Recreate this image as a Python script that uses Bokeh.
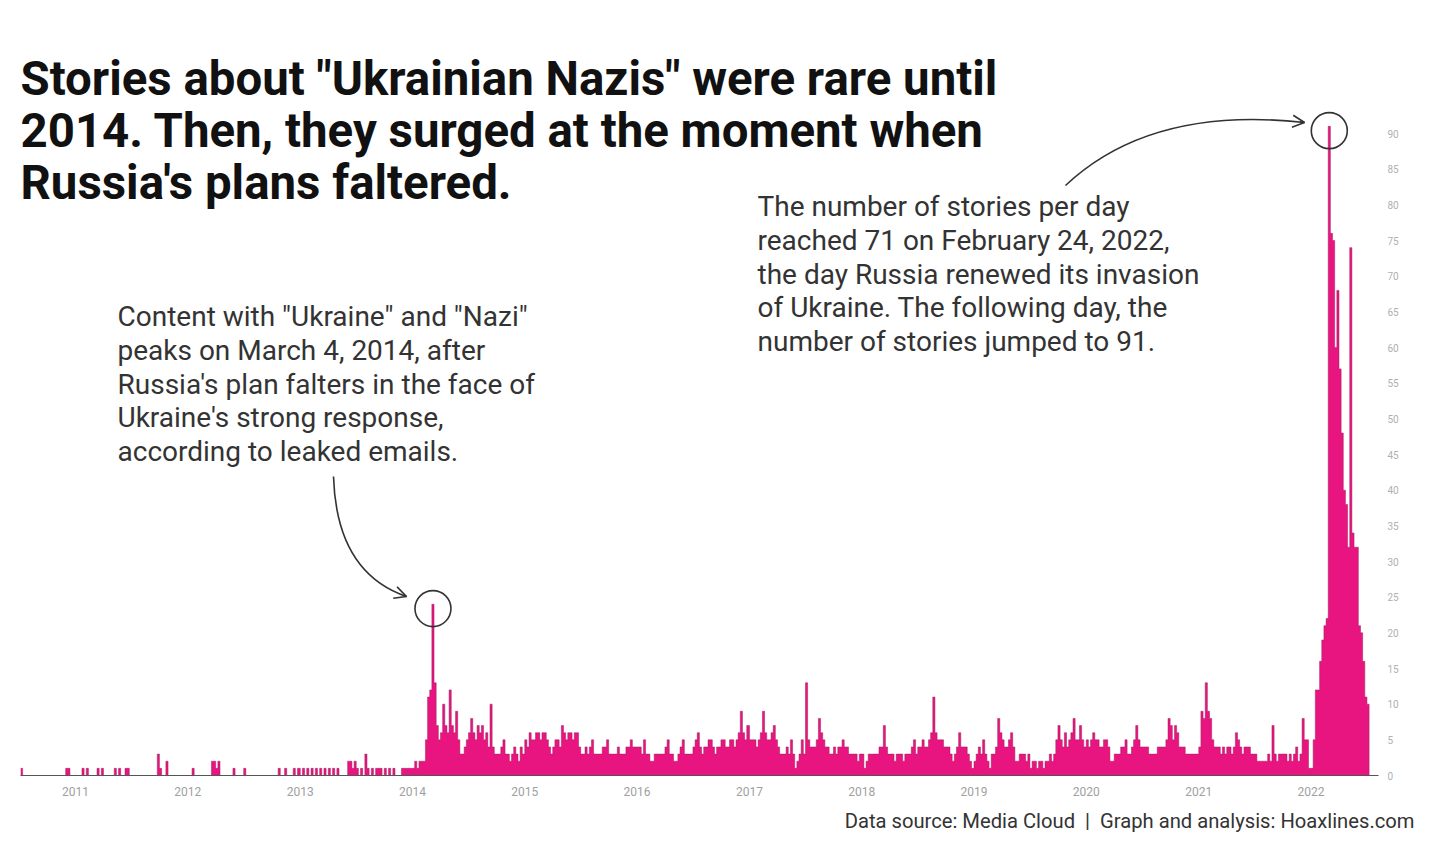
import datetime as dt
from bokeh.plotting import figure
from bokeh.models import (Range1d, FixedTicker, DatetimeTickFormatter, Label,
                          Arrow, OpenHead, ColumnDataSource, Title)
from bokeh.embed import file_html
from bokeh.resources import INLINE

# ---------------- data (weekly story counts) ----------------
first_week_start = "2010-07-06"
counts_2010 = [1,0,0,0,0,0,0,0,0,0, 0,0,0,0,0,0,0,0,0,0, 0,1,1,0,0,0]
counts_2011 = [0,0,0,1,0,1,0,0,0,0, 1,0,1,0,0,0,0,0,1,0, 1,0,0,1,1,0,0,0,0,0,
               0,0,0,0,0,0,0,0,3,1, 0,0,2,0,0,0,0,0,0,0, 0,0]
counts_2012 = [0,0,1,0,0,0,0,0,0,0, 0,2,2,1,2,0,0,0,0,0, 0,1,0,0,0,0,1,0,0,0,
               0,0,0,0,0,0,0,0,0,0, 0,0,1,0,0,1,0,0,0,1, 0,1]
counts_2013 = [0,1,0,1,0,1,0,1,0,1, 0,1,0,1,0,1,0,1,0,0, 0,0,2,2,1,2,1,0,1,0,
               3,1,0,1,0,1,1,1,0,1, 0,1,0,1,0,0,0,1,1,1, 1,1]
counts_2014 = [1,2,1,2,2,2,5,11,12,24, 13,7,5,6,10,7,6,12,7,6, 9,5,3,3,4,5,6,8,6,5,
               7,6,7,5,6,4,10,4,3,3, 3,4,5,3,3,2,3,4,3,2, 4,3]
counts_2015 = [5,4,6,5,5,6,6,5,6,6, 5,4,3,4,5,5,4,7,6,5, 6,6,5,6,6,4,3,3,4,3,
               4,5,3,3,3,3,4,4,5,3, 3,3,3,4,3,3,3,4,4,5, 4,4]
counts_2016 = [4,4,3,5,3,3,2,2,3,3, 3,3,3,4,5,3,3,2,2,3, 4,5,3,3,3,3,4,5,6,4,
               3,4,4,5,5,4,3,4,4,5, 5,4,4,5,5,4,5,6,9,6, 5,7]
counts_2017 = [5,5,5,4,5,6,9,6,5,5, 6,7,5,4,3,3,3,4,3,5, 3,1,2,3,5,3,13,5,4,4,
               4,5,8,6,5,4,4,3,3,4, 3,4,4,5,4,4,3,3,3,3, 2,3]
counts_2018 = [3,1,2,3,3,3,3,3,4,4, 7,4,3,3,3,2,3,3,3,2, 3,3,3,4,5,3,4,4,5,4,
               4,5,6,11,6,5,5,5,4,4, 4,3,2,3,4,6,4,4,4,3, 2,1]
counts_2019 = [2,3,4,3,5,3,2,1,3,3, 4,8,6,5,4,4,5,6,4,2, 2,3,3,3,2,3,1,2,2,1,
               2,2,1,2,2,3,2,3,5,7, 5,4,6,4,5,6,8,5,5,7, 5,4]
counts_2020 = [5,4,5,6,5,5,4,4,5,5, 4,2,2,3,3,3,4,4,5,3, 3,4,5,7,5,4,4,4,4,3,
               3,3,3,4,4,4,4,5,8,7, 5,7,6,4,4,4,3,3,3,3, 3,3]
counts_2021 = [4,9,8,13,9,8,5,4,4,4, 3,4,3,4,4,3,4,6,5,4, 3,4,4,4,3,3,3,2,2,2,
               2,2,3,2,7,3,2,3,3,3, 3,2,3,2,3,4,2,3,8,5, 5,1]
counts_2022 = [1,5,12,12,16,19,21,22,91,76, 75,60,68,57,48,40,38,32,74,34,
               32,32,21,20,16,11,10]

weekly_counts = {2010: counts_2010, 2011: counts_2011, 2012: counts_2012,
                 2013: counts_2013, 2014: counts_2014, 2015: counts_2015,
                 2016: counts_2016, 2017: counts_2017, 2018: counts_2018,
                 2019: counts_2019, 2020: counts_2020, 2021: counts_2021,
                 2022: counts_2022}

tick_years = list(range(2011, 2023))
y_ticks = list(range(0, 95, 5))

title_lines = ['Stories about "Ukrainian Nazis" were rare until',
               '2014. Then, they surged at the moment when',
               "Russia's plans faltered."]
note_2014_lines = ['Content with "Ukraine" and "Nazi"',
                   'peaks on March 4, 2014, after',
                   "Russia's plan falters in the face of",
                   "Ukraine's strong response,",
                   'according to leaked emails.']
note_2022_lines = ['The number of stories per day',
                   'reached 71 on February 24, 2022,',
                   'the day Russia renewed its invasion',
                   'of Ukraine. The following day, the',
                   'number of stories jumped to 91.']
footer_text = "Data source: Media Cloud \u00a0|\u00a0 Graph and analysis: Hoaxlines.com"

# ---------------- helpers ----------------
EPOCH = dt.datetime(1970, 1, 1)
DAY = 86400000.0


def ms(d):
    return (d - EPOCH).total_seconds() * 1000.0


xs, ys = [], []
for yr in sorted(weekly_counts):
    start = dt.datetime.strptime(first_week_start, "%Y-%m-%d") if yr == 2010 else dt.datetime(yr, 1, 1)
    for i, c in enumerate(weekly_counts[yr]):
        xs.append(ms(start + dt.timedelta(days=7 * i)))
        ys.append(c)
xs.append(xs[-1] + 7 * DAY)
ys.append(0)
src = ColumnDataSource(dict(x=xs, y=ys))

# ---------------- layout ----------------
W, H = 1441, 851
FL, FR, FB = 20, 1378, 775          # frame left / right / bottom (px); top = 0
PX_2011, PX_2022 = 75.0, 1310.5
ppm = (PX_2022 - PX_2011) / (ms(dt.datetime(2022, 1, 1)) - ms(dt.datetime(2011, 1, 1)))
x_start = ms(dt.datetime(2011, 1, 1)) - (PX_2011 - FL) / ppm
x_end = x_start + (FR - FL) / ppm
PX_PER_UNIT = 642.0 / 90.0
y_end = FB / PX_PER_UNIT


def dx(px):
    return x_start + (px - FL) / ppm


def dy(py):
    return (FB - py) / PX_PER_UNIT


p = figure(width=W, height=H, x_axis_type="datetime",
           x_range=Range1d(x_start, x_end), y_range=Range1d(0, y_end),
           y_axis_location="right", output_backend="svg", toolbar_location=None,
           min_border_left=FL, min_border_right=W - FR, min_border_top=0,
           min_border_bottom=H - FB)
p.outline_line_color = None
p.grid.visible = False
p.background_fill_color = "white"
p.border_fill_color = "white"

# x axis
p.xaxis.ticker = FixedTicker(ticks=[ms(dt.datetime(y, 1, 1)) for y in tick_years])
p.xaxis.formatter = DatetimeTickFormatter(years="%Y", months="%Y", days="%Y")
p.xaxis.major_tick_line_color = None
p.xaxis.minor_tick_line_color = None
p.xaxis.axis_line_color = "#555555"
p.xaxis.axis_line_width = 1
p.xaxis.major_label_text_font = "Roboto"
p.xaxis.major_label_text_font_size = "12px"
p.xaxis.major_label_text_color = "#a0a0a0"
p.xaxis.major_label_standoff = 5

# y axis (right)
p.yaxis.ticker = FixedTicker(ticks=y_ticks)
p.yaxis.major_tick_line_color = None
p.yaxis.minor_tick_line_color = None
p.yaxis.axis_line_color = None
p.yaxis.major_label_text_font = "Roboto"
p.yaxis.major_label_text_font_size = "10px"
p.yaxis.major_label_text_color = "#b0b0b0"
p.yaxis.major_label_standoff = 3

# footer as a title below the axis
footer = Title(text=footer_text, align="right", text_font="Roboto",
               text_font_size="20.2px", text_font_style="normal",
               text_color="#333333", offset=-36, standoff=17)
p.add_layout(footer, "below")

# data
p.varea_step(x="x", y1=0, y2="y", step_mode="after", source=src,
             fill_color="#e8147f", fill_alpha=1.0)
p.step(x="x", y="y", mode="after", source=src, line_color="#a3205f",
       line_width=1, line_alpha=0.5)

# circles on the two peaks
def peak_of(year):
    vals = weekly_counts[year]
    i = max(range(len(vals)), key=lambda k: vals[k])
    return ms(dt.datetime(year, 1, 1) + dt.timedelta(days=7 * i)) + 3.5 * DAY, vals[i] - 0.6


cx1, cy1 = peak_of(2014)
cx2, cy2 = peak_of(2022)
p.scatter(x=[cx1, cx2], y=[cy1, cy2], marker="circle", size=36,
          fill_color=None, line_color="#333333", line_width=1.6)

# curved arrows
arrows = [((333, 476), (336, 572), (406, 596)),
          ((1065, 185), (1150, 105), (1304, 122))]
for (a, c, b) in arrows:
    p.quadratic(x0=[dx(a[0])], y0=[dy(a[1])], x1=[dx(b[0])], y1=[dy(b[1])],
                cx=[dx(c[0])], cy=[dy(c[1])], line_color="#333333", line_width=1.6)
    sx = b[0] - 0.03 * (b[0] - c[0])
    sy = b[1] - 0.03 * (b[1] - c[1])
    p.add_layout(Arrow(end=OpenHead(size=12, line_color="#333333", line_width=1.6),
                       x_start=dx(sx), y_start=dy(sy), x_end=dx(b[0]), y_end=dy(b[1]),
                       line_color="#333333", line_width=1.6))


def screen_label(text, px, py, size, bold=False, align="left", color="#333333"):
    p.add_layout(Label(x=px - FL, y=FB - py, x_units="screen", y_units="screen",
                       text=text, text_font="Roboto", text_font_size=size,
                       text_font_style="bold" if bold else "normal",
                       text_color=color, text_align=align, text_baseline="middle"))


for i, t in enumerate(title_lines):
    screen_label(t, 20, 78 + 52 * i, "47.4px", bold=True, color="#111111")
for i, t in enumerate(note_2014_lines):
    screen_label(t, 117, 316 + 33.8 * i, "28px")
for i, t in enumerate(note_2022_lines):
    screen_label(t, 757, 206 + 33.8 * i, "28px")

open("out.html", "w").write(file_html(p, INLINE))
